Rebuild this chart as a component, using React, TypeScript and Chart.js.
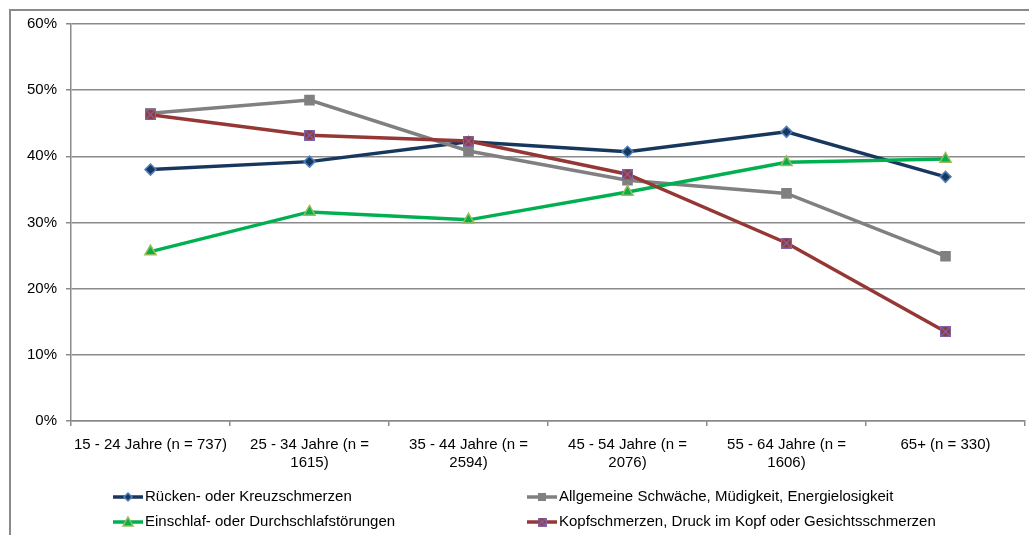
import React, { useEffect, useRef } from 'react';
import { Chart, registerables } from 'chart.js';

Chart.register(...registerables);

// ---- Data ----
const categories: string[][] = [
  ['15 - 24 Jahre (n = 737)'],
  ['25 - 34 Jahre (n =', '1615)'],
  ['35 - 44 Jahre (n =', '2594)'],
  ['45 - 54 Jahre (n =', '2076)'],
  ['55 - 64 Jahre (n =', '1606)'],
  ['65+ (n = 330)'],
];

const seriesNames = [
  'Rücken- oder Kreuzschmerzen',
  'Allgemeine Schwäche, Müdigkeit, Energielosigkeit',
  'Einschlaf- oder Durchschlafstörungen',
  'Kopfschmerzen, Druck im Kopf oder Gesichtsschmerzen',
];

const rueckenValues = [38.0, 39.2, 42.2, 40.7, 43.7, 36.9];
const schwaecheValues = [46.5, 48.5, 40.8, 36.4, 34.4, 24.9];
const schlafValues = [25.6, 31.6, 30.4, 34.6, 39.1, 39.6];
const kopfValues = [46.3, 43.2, 42.3, 37.3, 26.9, 13.5];

const yMin = 0;
const yMax = 60;
const yStep = 10;

// ---- Styles ----
const FONT = "'Liberation Sans', Arial, sans-serif";
const GRID = '#8a8a8a';
const BLUE_LINE = '#17375E';
const BLUE_EDGE = '#4F81BD';
const GRAY = '#808080';
const GREEN = '#00B050';
const GREEN_EDGE = '#9BBB59';
const RED = '#953735';
const PURPLE = '#7F64A6';

function makeKopfMarker(size: number): HTMLCanvasElement {
  const c = document.createElement('canvas');
  c.width = size;
  c.height = size;
  const g = c.getContext('2d')!;
  g.fillStyle = RED;
  g.fillRect(0, 0, size, size);
  g.strokeStyle = PURPLE;
  g.lineWidth = 1.3;
  g.strokeRect(0.5, 0.5, size - 1, size - 1);
  g.beginPath();
  g.moveTo(1, 1);
  g.lineTo(size - 1, size - 1);
  g.moveTo(size - 1, 1);
  g.lineTo(1, size - 1);
  g.stroke();
  return c;
}

const framePlugin = {
  id: 'frameAndLegend',
  afterDraw(chart: any) {
    const ctx: CanvasRenderingContext2D = chart.ctx;
    ctx.save();
    // outer frame
    ctx.strokeStyle = GRID;
    ctx.lineWidth = 2;
    ctx.beginPath();
    ctx.moveTo(10, 600);
    ctx.lineTo(10, 10);
    ctx.lineTo(1100, 10);
    ctx.stroke();

    // legend
    const items = [
      { col: 0, row: 0, idx: 0 },
      { col: 1, row: 0, idx: 1 },
      { col: 0, row: 1, idx: 2 },
      { col: 1, row: 1, idx: 3 },
    ];
    const colX = [113, 527];
    const rowY = [497, 522];
    ctx.font = `15px ${FONT}`;
    ctx.textBaseline = 'middle';
    ctx.textAlign = 'left';
    for (const it of items) {
      const x0 = colX[it.col];
      const y = rowY[it.row];
      const ds = chart.data.datasets[it.idx];
      ctx.strokeStyle = ds.borderColor;
      ctx.lineWidth = 3.5;
      ctx.beginPath();
      ctx.moveTo(x0, y);
      ctx.lineTo(x0 + 30, y);
      ctx.stroke();
      const cx = x0 + 15;
      ctx.lineWidth = 1.5;
      if (it.idx === 0) {
        ctx.fillStyle = BLUE_LINE;
        ctx.strokeStyle = BLUE_EDGE;
        ctx.beginPath();
        ctx.moveTo(cx, y - 4);
        ctx.lineTo(cx + 4, y);
        ctx.lineTo(cx, y + 4);
        ctx.lineTo(cx - 4, y);
        ctx.closePath();
        ctx.fill();
        ctx.stroke();
      } else if (it.idx === 1) {
        ctx.fillStyle = GRAY;
        ctx.fillRect(cx - 4, y - 4, 8, 8);
      } else if (it.idx === 2) {
        ctx.fillStyle = GREEN;
        ctx.strokeStyle = GREEN_EDGE;
        ctx.beginPath();
        ctx.moveTo(cx, y - 5);
        ctx.lineTo(cx + 5, y + 4);
        ctx.lineTo(cx - 5, y + 4);
        ctx.closePath();
        ctx.fill();
        ctx.stroke();
      } else {
        const m = makeKopfMarker(9);
        ctx.drawImage(m, cx - 4.5, y - 4.5);
      }
      ctx.fillStyle = '#000';
      ctx.fillText(seriesNames[it.idx], x0 + 32, y);
    }
    ctx.restore();
  },
};

export default function App() {
  const ref = useRef<HTMLCanvasElement | null>(null);

  useEffect(() => {
    if (!ref.current) return;
    const kopfMarker = makeKopfMarker(11);
    const chart = new Chart(ref.current, {
      type: 'line',
      data: {
        labels: categories as any,
        datasets: [
          {
            label: seriesNames[0],
            data: rueckenValues,
            borderColor: BLUE_LINE,
            backgroundColor: BLUE_LINE,
            borderWidth: 3.5,
            pointStyle: 'rectRot',
            pointRadius: 5.5,
            pointBackgroundColor: BLUE_LINE,
            pointBorderColor: BLUE_EDGE,
            pointBorderWidth: 1.5,
            tension: 0,
            order: 4,
          },
          {
            label: seriesNames[1],
            data: schwaecheValues,
            borderColor: GRAY,
            backgroundColor: GRAY,
            borderWidth: 3.5,
            pointStyle: 'rect',
            pointRadius: 7.5,
            pointBackgroundColor: GRAY,
            pointBorderColor: GRAY,
            pointBorderWidth: 0,
            tension: 0,
            order: 3,
          },
          {
            label: seriesNames[2],
            data: schlafValues,
            borderColor: GREEN,
            backgroundColor: GREEN,
            borderWidth: 3.5,
            pointStyle: 'triangle',
            pointRadius: 6.5,
            pointBackgroundColor: GREEN,
            pointBorderColor: GREEN_EDGE,
            pointBorderWidth: 1.5,
            tension: 0,
            order: 2,
          },
          {
            label: seriesNames[3],
            data: kopfValues,
            borderColor: RED,
            backgroundColor: RED,
            borderWidth: 3.5,
            pointStyle: kopfMarker as any,
            pointRadius: 6,
            tension: 0,
            order: 1,
          },
        ],
      },
      options: {
        animation: false,
        responsive: false,
        devicePixelRatio: 1,
        layout: { autoPadding: false, padding: { left: 0, right: 4, top: 24, bottom: 0 } },
        plugins: {
          legend: { display: false },
          tooltip: { enabled: false },
        },
        scales: {
          x: {
            type: 'category',
            offset: true,
            grid: {
              offset: true,
              drawOnChartArea: false,
              drawTicks: true,
              tickLength: 5,
              color: GRID,
              lineWidth: 1.5,
            },
            border: { display: true, color: GRID, width: 1.5 },
            ticks: {
              color: '#000',
              font: { family: FONT, size: 15 },
              padding: 10,
              maxRotation: 0,
              autoSkip: false,
            },
            afterFit(scale: any) {
              scale.height = 114;
              scale.paddingLeft = 0;
              scale.paddingRight = 0;
            },
          },
          y: {
            min: yMin,
            max: yMax,
            grid: {
              drawTicks: true,
              tickLength: 5,
              color: GRID,
              lineWidth: 1.5,
            },
            border: { display: true, color: GRID, width: 1.5 },
            ticks: {
              stepSize: yStep,
              color: '#000',
              font: { family: FONT, size: 15 },
              padding: 9,
              callback: (v: any) => `${v}%`,
            },
            afterFit(scale: any) {
              scale.width = 71;
            },
          },
        },
      },
      plugins: [framePlugin],
    });
    return () => chart.destroy();
  }, []);

  return (
    <div style={{ position: 'fixed', left: 0, top: 0, width: 1029, height: 535, background: '#fff' }}>
      <canvas ref={ref} width={1029} height={535} style={{ display: 'block' }} />
    </div>
  );
}
